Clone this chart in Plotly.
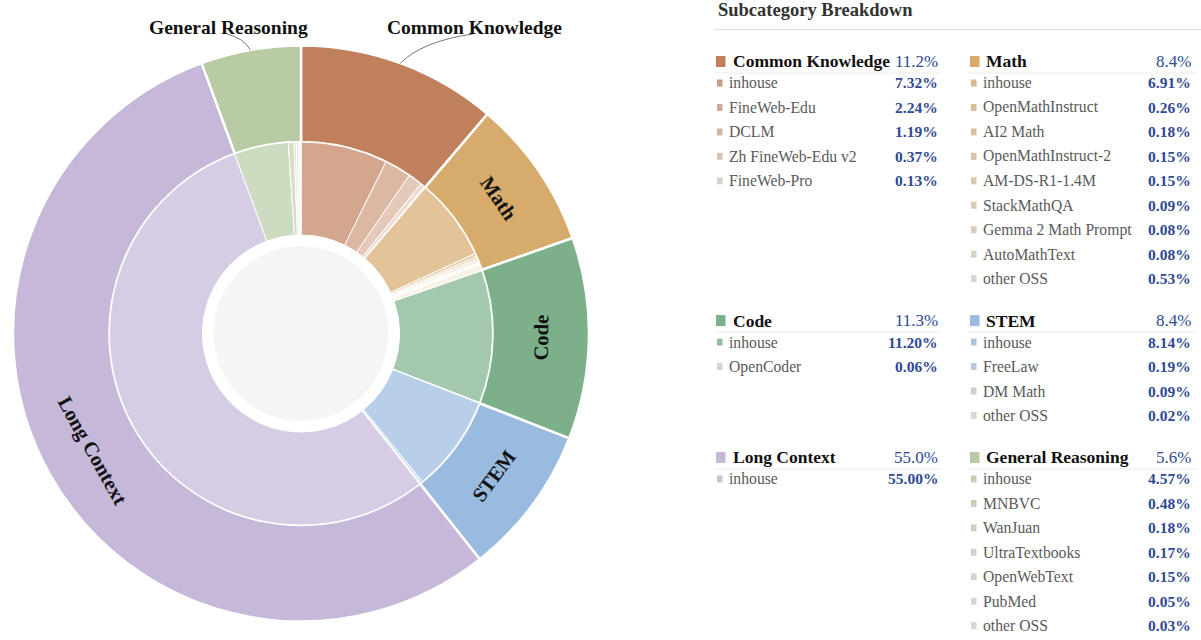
import math
import plotly.graph_objects as go

W, H = 1201, 640

# ---------------- data ----------------
categories = ["Common Knowledge", "Math", "Code", "STEM", "Long Context", "General Reasoning"]
category_share = [11.2, 8.4, 11.3, 8.4, 55.0, 5.6]
category_colors = ["#c0805c", "#d6ab6c", "#7bb08a", "#99bbe0", "#c5b8d9", "#b8cba5"]

ck_sources = ["inhouse", "FineWeb-Edu", "DCLM", "Zh FineWeb-Edu v2", "FineWeb-Pro"]
ck_share = [7.32, 2.24, 1.19, 0.37, 0.13]

math_sources = ["inhouse", "OpenMathInstruct", "AI2 Math", "OpenMathInstruct-2", "AM-DS-R1-1.4M",
                "StackMathQA", "Gemma 2 Math Prompt", "AutoMathText", "other OSS"]
math_share = [6.91, 0.26, 0.18, 0.15, 0.15, 0.09, 0.08, 0.08, 0.53]

code_sources = ["inhouse", "OpenCoder"]
code_share = [11.20, 0.06]

stem_sources = ["inhouse", "FreeLaw", "DM Math", "other OSS"]
stem_share = [8.14, 0.19, 0.09, 0.02]

lc_sources = ["inhouse"]
lc_share = [55.00]

gr_sources = ["inhouse", "MNBVC", "WanJuan", "UltraTextbooks", "OpenWebText", "PubMed", "other OSS"]
gr_share = [4.57, 0.48, 0.18, 0.17, 0.15, 0.05, 0.03]

sub_sources = [ck_sources, math_sources, code_sources, stem_sources, lc_sources, gr_sources]
sub_shares = [ck_share, math_share, code_share, stem_share, lc_share, gr_share]

inside_labels = ["Math", "Code", "STEM", "Long Context"]
outside_labels = {"Common Knowledge": (474, 27), "General Reasoning": (228, 27)}

# ---------------- helpers ----------------
SERIF = "Liberation Serif, Times New Roman, serif"
BLUE = "#2f4a92"


def X(px):
    return px / W


def Y(py):
    return 1 - py / H


def hex2rgb(h):
    h = h.lstrip("#")
    return tuple(int(h[i:i + 2], 16) for i in (0, 2, 4))


def mix(c1, c2, t):
    a, b = hex2rgb(c1), hex2rgb(c2)
    return "rgb({},{},{})".format(*[round(a[i] + (b[i] - a[i]) * t) for i in range(3)])


# geometry (pixels)
CX, CY = 301, 333.5
R_OUT, R_MID, R_HOLE, R_CORE = 288, 191.5, 98.5, 87.5

# ---------------- inner ring data ----------------
inner_labels, inner_values, inner_colors = [], [], []
legend_colors = []
for cat, base, srcs, vals in zip(categories, category_colors, sub_sources, sub_shares):
    n = len(srcs)
    lc = []
    for i, (s, v) in enumerate(zip(srcs, vals)):
        t = i / (n - 1) if n > 1 else 0
        inner_labels.append(f"{cat} · {s}")
        inner_values.append(v)
        inner_colors.append(mix(base, "#ffffff", 0.3 + 0.55 * t))
        lc.append(mix(base, "#dadada", 0.3 + 0.6 * t))
    legend_colors.append(lc)

fig = go.Figure()

fig.add_trace(go.Pie(
    labels=categories, values=category_share, sort=False, direction="clockwise", rotation=0,
    hole=R_MID / R_OUT,
    domain=dict(x=[X(CX - R_OUT), X(CX + R_OUT)], y=[Y(CY + R_OUT), Y(CY - R_OUT)]),
    marker=dict(colors=category_colors, line=dict(color="white", width=2.5)),
    textinfo="none", showlegend=False, hoverinfo="label+value",
))

fig.add_trace(go.Pie(
    labels=inner_labels, values=inner_values, sort=False, direction="clockwise", rotation=0,
    hole=R_HOLE / R_MID,
    domain=dict(x=[X(CX - R_MID), X(CX + R_MID)], y=[Y(CY + R_MID), Y(CY - R_MID)]),
    marker=dict(colors=inner_colors, line=dict(color="white", width=1)),
    textinfo="none", showlegend=False, hoverinfo="label+value",
))

shapes, annotations = [], []

# center disc
shapes.append(dict(type="circle", xref="paper", yref="paper",
                   x0=X(CX - R_CORE), x1=X(CX + R_CORE), y0=Y(CY + R_CORE), y1=Y(CY - R_CORE),
                   fillcolor="#f4f5f7", line=dict(width=0), layer="above"))

# ring labels: tangential inside labels, and outside labels with leader lines
total = sum(category_share)
cum = 0
R_TXT = (R_MID + R_OUT) / 2
for cat, v in zip(categories, category_share):
    mid = (cum + v / 2) / total * 2 * math.pi
    cum += v
    if cat in inside_labels:
        deg = math.degrees(mid) % 180
        if deg > 90:
            deg -= 180
        tx, ty = CX + R_TXT * math.sin(mid), CY - R_TXT * math.cos(mid)
        annotations.append(dict(x=X(tx), y=Y(ty), xref="paper", yref="paper", text=f"<b>{cat}</b>",
                                showarrow=False, xanchor="center", yanchor="middle", textangle=deg,
                                font=dict(family=SERIF, size=20.5, color="#111111")))
    if cat in outside_labels:
        lx, ly = outside_labels[cat]
        ex, ey = CX + R_OUT * math.sin(mid), CY - R_OUT * math.cos(mid)
        ax, ay = lx - 1, ly + 7
        qx, qy = ax + (ex - ax) * 0.7, ay + (ey - ay) * 0.25
        shapes.append(dict(type="path", xref="paper", yref="paper",
                           path=f"M {X(ax)} {Y(ay)} Q {X(qx)} {Y(qy)} {X(ex)} {Y(ey)}",
                           line=dict(color="#777777", width=1)))
        annotations.append(dict(x=X(lx), y=Y(ly), xref="paper", yref="paper", text=f"<b>{cat}</b>",
                                showarrow=False, xanchor="center", yanchor="middle",
                                font=dict(family=SERIF, size=19.5, color="#111111")))

# ---------------- right-hand breakdown table ----------------
annotations.append(dict(x=X(716), y=Y(10.5), xref="paper", yref="paper",
                        text="<b>Subcategory Breakdown</b>", showarrow=False,
                        xanchor="left", yanchor="middle",
                        font=dict(family=SERIF, size=18.5, color="#333333")))
shapes.append(dict(type="line", xref="paper", yref="paper", x0=X(714), x1=X(1201),
                   y0=Y(29.5), y1=Y(29.5), line=dict(color="#dddddd", width=1)))

cols = [dict(sq=716, tx=731, isq=717, itx=727, right=940, l0=715, l1=941),
        dict(sq=970, tx=984, isq=971, itx=981, right=1193, l0=968, l1=1197)]
STEP = 24.45
header_y = 61.5
for r in range(3):
    max_n = 0
    for c in range(2):
        k = 2 * r + c
        col = cols[c]
        cat, base = categories[k], category_colors[k]
        srcs, vals = sub_sources[k], sub_shares[k]
        max_n = max(max_n, len(srcs))
        shapes.append(dict(type="rect", xref="paper", yref="paper",
                           x0=X(col["sq"]), x1=X(col["sq"] + 9.5),
                           y0=Y(header_y + 5.5), y1=Y(header_y - 5.5),
                           fillcolor=base, line=dict(width=0)))
        annotations.append(dict(x=X(col["tx"]), y=Y(header_y), xref="paper", yref="paper",
                                text=f"<b>{cat}</b>", showarrow=False, xanchor="left", yanchor="middle",
                                font=dict(family=SERIF, size=17.5, color="#111111")))
        annotations.append(dict(x=X(col["right"]), y=Y(header_y), xref="paper", yref="paper",
                                text=f"{category_share[k]:.1f}%", showarrow=False,
                                xanchor="right", yanchor="middle",
                                font=dict(family=SERIF, size=17, color=BLUE)))
        shapes.append(dict(type="line", xref="paper", yref="paper", x0=X(col["l0"]), x1=X(col["l1"]),
                           y0=Y(header_y + 11.5), y1=Y(header_y + 11.5),
                           line=dict(color="#ececec", width=1)))
        for i, (s, v) in enumerate(zip(srcs, vals)):
            iy = header_y + 21.5 + STEP * i
            shapes.append(dict(type="rect", xref="paper", yref="paper",
                               x0=X(col["isq"]), x1=X(col["isq"] + 5.5),
                               y0=Y(iy + 3.5), y1=Y(iy - 3.5),
                               fillcolor=legend_colors[k][i], line=dict(width=0)))
            annotations.append(dict(x=X(col["itx"]), y=Y(iy), xref="paper", yref="paper",
                                    text=s, showarrow=False, xanchor="left", yanchor="middle",
                                    font=dict(family=SERIF, size=15.7, color="#5a5a5a")))
            annotations.append(dict(x=X(col["right"]), y=Y(iy), xref="paper", yref="paper",
                                    text=f"<b>{v:.2f}%</b>", showarrow=False,
                                    xanchor="right", yanchor="middle",
                                    font=dict(family=SERIF, size=15.5, color=BLUE)))
    header_y = header_y + 21.5 + STEP * (max_n - 1) + 42

fig.update_layout(
    width=W, height=H, margin=dict(l=0, r=0, t=0, b=0),
    paper_bgcolor="white", plot_bgcolor="white",
    shapes=shapes, annotations=annotations, showlegend=False,
)

fig.write_html("out.html", config={"displayModeBar": False},
               post_script="document.body.style.margin='0';document.body.style.overflow='hidden';")
